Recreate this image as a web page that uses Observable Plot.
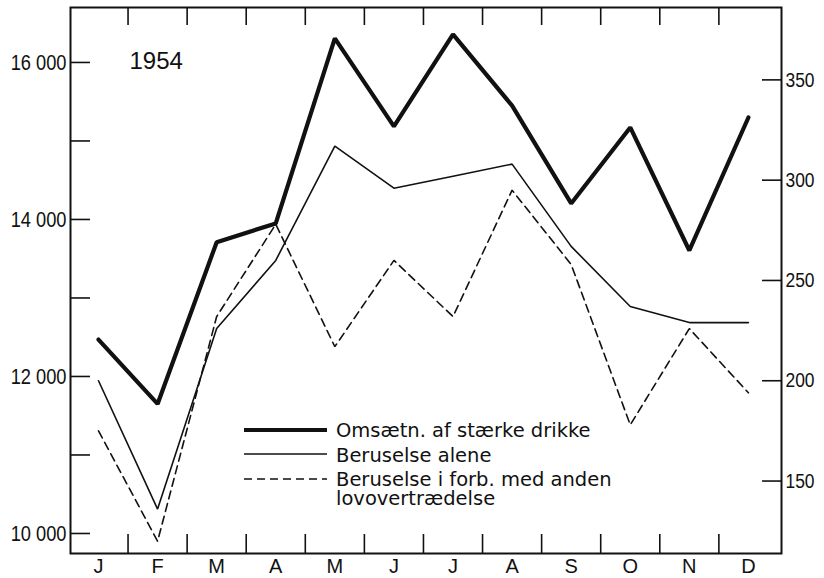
<!DOCTYPE html>
<html><head><meta charset="utf-8">
<script src="https://cdn.jsdelivr.net/npm/d3@7"></script>
<script src="https://cdn.jsdelivr.net/npm/@observablehq/plot@0.6"></script>
<style>
body{margin:0;background:#fff;}
#wrap{position:relative;width:824px;height:578px;}
#legend{position:absolute;left:0;top:0;pointer-events:none;}
</style></head><body><div id="wrap"></div>
<script>
// ---- data ----
const months = ["J","F","M","A","M","J","J","A","S","O","N","D"];
const omsaetning = [12470,11650,13710,13950,16306,15185,16357,15450,14204,15172,13605,15299]; // left axis
const beruselseAlene = [200,136,226,260,317,296,302,308,267,237,229,229];                      // right axis
const beruselseForb = [175,120,232,278,217,260,232,295,258,178,226,194];                       // right axis
const leftTicks = [10000,12000,14000,16000];
const leftMinorTicks = [11000,13000,15000];
const rightTicks = [150,200,250,300,350];
const year = "1954";
const legendLines = [["Omsætn. af stærke drikke"],["Beruselse alene"],["Beruselse i forb. med anden","lovovertrædelse"]];

// ---- layout ----
const W = 824, H = 578, mL = 70, mR = 43, mT = 7, mB = 25;
const fw = W - mL - mR, fh = H - mT - mB;
const numFont = "'Liberation Sans', sans-serif";
const txtFont = "'DejaVu Sans', sans-serif";
const ink = "#111";

// right-axis units -> left-axis units
const toLeft = d3.scaleLinear().domain([150, 350]).range([10668, 15778]);

const rows = (arr) => arr.map((v, i) => ({i, v}));
const fmt = v => d3.format(",")(v).replace(/,/g, " ");
const bounds = d3.range(0.5, 11, 1);

const plot = Plot.plot({
  width: W, height: H,
  marginLeft: mL, marginRight: mR, marginTop: mT, marginBottom: mB,
  style: {background: "white", color: ink, fontFamily: numFont, overflow: "visible"},
  x: {type: "linear", domain: [-0.474, 11.56]},
  y: {domain: [9745, 16700]},
  marks: [
    Plot.axisX({ticks: d3.range(12), tickSize: 0, tickPadding: 5, tickFormat: i => months[i], fontSize: 20, label: null}),
    Plot.tickX(bounds, {x: d => d, insetTop: fh - 19, strokeWidth: 1.6, stroke: ink}),
    Plot.tickX(bounds, {x: d => d, insetBottom: fh - 18, strokeWidth: 1.6, stroke: ink}),
    Plot.axisY({ticks: leftTicks, tickSize: 0, tickPadding: 4, tickFormat: fmt, fontSize: 22, label: null}),
    Plot.tickY([...leftTicks, ...leftMinorTicks], {y: d => d, insetRight: fw - 20, strokeWidth: 1.6, stroke: ink}),
    Plot.axisY({anchor: "right", ticks: rightTicks.map(d => toLeft(d)), tickSize: 0, tickPadding: 4,
      tickFormat: v => String(Math.round(toLeft.invert(v))), fontSize: 21, label: null}),
    Plot.tickY(rightTicks.map(d => toLeft(d)), {y: d => d, insetLeft: fw - 19, strokeWidth: 1.6, stroke: ink}),
    Plot.frame({strokeWidth: 2, stroke: ink}),
    Plot.line(rows(beruselseForb), {x: "i", y: d => toLeft(d.v), stroke: ink, strokeWidth: 1.6, strokeDasharray: "8,5", strokeLinejoin: "miter"}),
    Plot.line(rows(beruselseAlene), {x: "i", y: d => toLeft(d.v), stroke: ink, strokeWidth: 1.6, strokeLinejoin: "miter"}),
    Plot.line(rows(omsaetning), {x: "i", y: "v", stroke: ink, strokeWidth: 4.2, strokeLinejoin: "miter"}),
    Plot.text([year], {frameAnchor: "top-left", text: d => d, dx: 59, dy: 54, textAnchor: "start", lineAnchor: "middle",
      fontSize: 24, fill: ink})
  ]
});
const wrap = document.getElementById("wrap");
wrap.appendChild(plot);

// narrow the numeric tick labels (condensed lettering as in the original)
d3.select(plot).selectAll("g[aria-label='y-axis tick label'] text").each(function() {
  const t = this.getAttribute("transform") || "";
  this.setAttribute("transform", t + " scale(0.83,1)");
});

// ---- legend overlay ----
const svg = d3.select(wrap).append("svg").attr("id", "legend").attr("width", W).attr("height", H);
const sampleY = [430, 454, 479];
const sampleW = [4.2, 1.6, 1.6];
const sampleDash = [null, null, "8,5"];
const baseY = [437, 462, 486];
legendLines.forEach((lines, k) => {
  svg.append("line").attr("x1", 244).attr("x2", 327).attr("y1", sampleY[k]).attr("y2", sampleY[k])
    .attr("stroke", ink).attr("stroke-width", sampleW[k]).attr("stroke-dasharray", sampleDash[k]);
  lines.forEach((t, j) => {
    svg.append("text").attr("x", 336).attr("y", baseY[k] + j * 18.5)
      .attr("font-family", txtFont).attr("font-size", 19.5).attr("fill", ink).text(t);
  });
});
</script>
</body></html>
